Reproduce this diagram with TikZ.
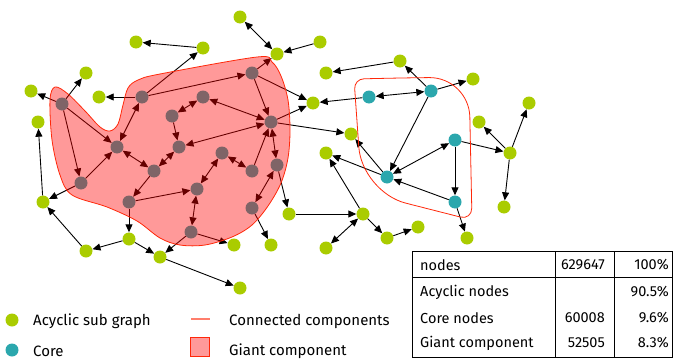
\documentclass[tikz,border=0pt]{standalone}
\usepackage{fontspec}
\setmainfont{Fira Sans}
\usetikzlibrary{arrows.meta}
\definecolor{acyc}{RGB}{170,204,0}
\definecolor{core}{RGB}{43,167,173}
\definecolor{ccred}{RGB}{255,40,10}
\begin{document}
\begin{tikzpicture}[x=1pt,y=-1pt,
 gn/.style={circle,fill=acyc,minimum size=13pt,inner sep=0pt},
 cn/.style={circle,fill=core,minimum size=13pt,inner sep=0pt},
 ed/.style={draw=black,line width=0.9pt,-{Triangle[length=8pt,width=7pt]}},
 bd/.style={draw=black,line width=0.9pt,{Triangle[length=8pt,width=7pt]}-{Triangle[length=8pt,width=7pt]}},
 lab/.style={font=\fontsize{15}{17}\selectfont,inner sep=0pt,anchor=west},
 tlab/.style={font=\fontsize{14.5}{16}\selectfont,inner sep=0pt,anchor=west},
 tnum/.style={font=\fontsize{14.5}{16}\selectfont,inner sep=0pt,anchor=east},
 ccline/.style={draw=ccred,line width=0.8pt},
]
\useasboundingbox (0,0) rectangle (673,359);
% acyclic nodes
\node[gn] (g1) at (240,17) {};
\node[gn] (g2) at (136,42) {};
\node[gn] (g3) at (203,48) {};
\node[gn] (g4) at (320,42) {};
\node[gn] (g5) at (277,54) {};
\node[gn] (g6) at (86,73) {};
\node[gn] (g7) at (326,73) {};
\node[gn] (g8) at (31,91) {};
\node[gn] (g9) at (99,97) {};
\node[gn] (g10) at (38,122) {};
\node[gn] (g11) at (313,103) {};
\node[gn] (g12) at (326,153) {};
\node[gn] (g13) at (43,202) {};
\node[gn] (g14) at (289,214) {};
\node[gn] (g15) at (129,239) {};
\node[gn] (g16) at (86,251) {};
\node[gn] (g17) at (160,257) {};
\node[gn] (g18) at (234,245) {};
\node[gn] (g19) at (271,245) {};
\node[gn] (g20) at (240,288) {};
\node[gn] (g21) at (400,61) {};
\node[gn] (g22) at (473,79) {};
\node[gn] (g23) at (351,134) {};
\node[gn] (g24) at (529,103) {};
\node[gn] (g25) at (479,122) {};
\node[gn] (g26) at (510,153) {};
\node[gn] (g27) at (504,207) {};
\node[gn] (g28) at (363,214) {};
\node[gn] (g29) at (418,227) {};
\node[gn] (g30) at (387,238) {};
\node[gn] (g31) at (467,238) {};
\node[gn] (g32) at (326,248) {};
% core nodes
\node[cn] (c1) at (369,97) {};
\node[cn] (c2) at (431,91) {};
\node[cn] (c3) at (455,140) {};
\node[cn] (c4) at (387,177) {};
\node[cn] (c5) at (455,202) {};
% giant component nodes
\node[cn] (h1) at (62,104) {};
\node[cn] (h2) at (142,97) {};
\node[cn] (h3) at (252,73) {};
\node[cn] (h4) at (203,97) {};
\node[cn] (h5) at (172,116) {};
\node[cn] (h6) at (271,122) {};
\node[cn] (h7) at (117,147) {};
\node[cn] (h8) at (179,147) {};
\node[cn] (h9) at (222,153) {};
\node[cn] (h10) at (252,171) {};
\node[cn] (h11) at (277,165) {};
\node[cn] (h12) at (154,171) {};
\node[cn] (h13) at (81,183) {};
\node[cn] (h14) at (197,189) {};
\node[cn] (h15) at (129,202) {};
\node[cn] (h16) at (252,208) {};
\node[cn] (h17) at (191,232) {};
% edges
\draw[bd] (g5) -- (g1);
\draw[ed] (g4) -- (g5);
\draw[ed] (g3) -- (g2);
\draw[ed] (h2) -- (g3);
\draw[ed] (h2) -- (g9);
\draw[ed] (h2) -- (h3);
\draw[ed] (h3) -- (g5);
\draw[ed] (h3) -- (g11);
\draw[ed] (g21) -- (g7);
\draw[ed] (h6) -- (g11);
\draw[ed] (h6) -- (g23);
\draw[ed] (h1) -- (g8);
\draw[ed] (h1) -- (g6);
\draw[ed] (h1) -- (h7);
\draw[ed] (h1) -- (h13);
\draw[bd] (h2) -- (h7);
\draw[bd] (h4) -- (h5);
\draw[ed] (h5) -- (h8);
\draw[bd] (h4) -- (h6);
\draw[bd] (h8) -- (h6);
\draw[ed] (h3) -- (h6);
\draw[bd] (h7) -- (h12);
\draw[bd] (h8) -- (h12);
\draw[ed] (h13) -- (h7);
\draw[bd] (h9) -- (h10);
\draw[ed] (h10) -- (h6);
\draw[bd] (h6) -- (h11);
\draw[bd] (h9) -- (h14);
\draw[ed] (h13) -- (g13);
\draw[ed] (g13) -- (g10);
\draw[ed] (g16) -- (g13);
\draw[ed] (g15) -- (g16);
\draw[ed] (h15) -- (g15);
\draw[ed] (h15) -- (h14);
\draw[ed] (h12) -- (h15);
\draw[ed] (g15) -- (g17);
\draw[ed] (h17) -- (g17);
\draw[ed] (h17) -- (g18);
\draw[bd] (h14) -- (h17);
\draw[bd] (h11) -- (h16);
\draw[ed] (h11) -- (g14);
\draw[ed] (h16) -- (g19);
\draw[ed] (g17) -- (g20);
\draw[ed] (g14) -- (g28);
\draw[bd] (g28) -- (g32);
\draw[ed] (g28) -- (g12);
\draw[ed] (g28) -- (g30);
\draw[ed] (g30) -- (g29);
\draw[ed] (c4) -- (g12);
\draw[ed] (c4) -- (g23);
\draw[ed] (c2) -- (c4);
\draw[bd] (c3) -- (c4);
\draw[ed] (c5) -- (c4);
\draw[ed] (c3) -- (c5);
\draw[ed] (c5) -- (g31);
\draw[ed] (c3) -- (g26);
\draw[ed] (c2) -- (g21);
\draw[ed] (c2) -- (g22);
\draw[bd] (c1) -- (c2);
\draw[ed] (c1) -- (g11);
\draw[ed] (g26) -- (g25);
\draw[ed] (g26) -- (g24);
\draw[ed] (g26) -- (g27);
% giant component hull
\draw[ccline,fill=red,fill opacity=0.4] plot[smooth cycle,tension=0.55] coordinates {
 (55,87) (68,94) (86,112) (100,127) (110,131) (118,124) (123,105) (128,88) (138,80) (160,74) (257,57) (272,62) (281,76) (288,100) (290,130) (288,158) (281,183) (268,206) (252,225) (232,237) (205,245) (180,245) (160,238) (137,221) (107,207) (72,195) (60,175) (52,140) (50,100)};
% connected component outline
\draw[ccline] (400,78) [rounded corners=40pt] -- (469,77) [rounded corners=12pt] -- (472,220) [rounded corners=45pt] -- (362,192) [rounded corners=10pt] -- (354,79) -- cycle;
% legend
\node[gn] (lg1) at (12,320) {};
\node[cn] (lg2) at (12,350) {};
\node[lab] (lt1) at (33,321) {Acyclic sub graph};
\node[lab] (lt2) at (33,351) {Core};
\coordinate (lr1) at (191,319);
\coordinate (lr2) at (210,319);
\draw[draw=ccred,line width=1.3pt,draw opacity=0.6] (lr1) -- (lr2);
\node[draw=ccred,line width=0.8pt,fill=red,fill opacity=0.4,draw opacity=1,minimum size=19pt,inner sep=0pt] (lsq) at (200,347) {};
\node[lab] (lt3) at (229,321) {Connected components};
\node[lab] (lt4) at (229,351) {Giant component};
% table
\draw[line width=0.9pt] (412,251) rectangle (672,357);
\draw[line width=0.7pt] (555,251) -- (555,357);
\draw[line width=0.7pt] (614,251) -- (614,357);
\draw[line width=0.7pt] (412,277) -- (672,277);
\node[tlab] (t1) at (420,265) {nodes};
\node[tnum] (t2) at (605,265) {629647};
\node[tnum] (t3) at (669,265) {100\%};
\node[tlab] (t4) at (420,292) {Acyclic nodes};
\node[tnum] (t5) at (669,292) {90.5\%};
\node[tlab] (t6) at (420,318) {Core nodes};
\node[tnum] (t7) at (605,318) {60008};
\node[tnum] (t8) at (669,318) {9.6\%};
\node[tlab] (t9) at (420,343) {Giant component};
\node[tnum] (t10) at (605,343) {52505};
\node[tnum] (t11) at (669,343) {8.3\%};
\end{tikzpicture}
\end{document}
